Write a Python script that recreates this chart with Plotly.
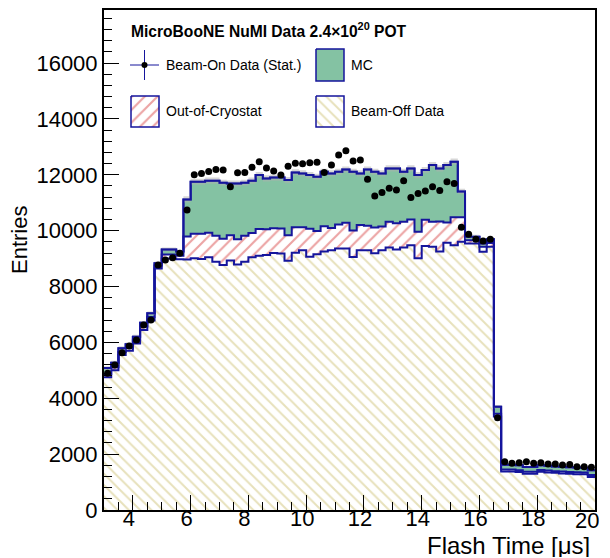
import numpy as np
import plotly.graph_objects as go

# ---------------- data ----------------
bin_lo, bin_hi, bin_w = 3.0, 20.0, 0.25

beam_off = [4750, 5000, 5550, 5700, 5960, 6440, 6780, 8650, 9000, 9000, 8980,
            8970, 9010, 8990, 9050, 8890, 8770, 8930, 8790, 8890, 9050, 9100, 9130, 9200,
            9180, 8920, 9210, 9300, 9070, 9160, 9250, 9300, 9360, 9360, 9060, 9300, 9300,
            9190, 9300, 9400, 9330, 9400, 9480, 9010, 9450, 9420, 9250, 9570, 9480,
            9600, 9540, 9540, 9245, 9420, 3350,
            1380, 1380, 1360, 1300, 1300, 1370, 1340, 1330, 1310, 1300, 1280, 1280, 1180]

out_of_cryo = [120, 110, 110, 110, 120, 130, 130, 100, 150, 150, 120,
               820, 880, 900, 880, 930, 940, 910, 900, 930, 870, 960, 920, 890,
               900, 920, 910, 820, 1000, 830, 910, 800, 860, 920, 950, 900, 880,
               920, 850, 920, 940, 920, 920, 950, 940, 900, 1080, 720, 1000,
               880, 120, 120, 175, 140, 100,
               70, 70, 60, 70, 70, 60, 70, 60, 70, 60, 70, 60, 70]

mc = [210, 160, 130, 120, 120, 130, 130, 80, 180, 180, 150,
      1330, 1860, 1860, 1860, 1970, 2005, 1850, 2000, 1895, 1870, 1930, 1820, 1810,
      1820, 1970, 1965, 1930, 1920, 1940, 1950, 1950, 1890, 1910, 2100, 1850, 2010,
      2000, 1900, 1910, 1960, 1790, 1830, 2030, 1780, 2030, 1900, 2060, 1990,
      920, 120, 120, 120, 130, 250,
      170, 170, 180, 170, 170, 170, 170, 170, 170, 170, 170, 170, 170]

mc_unc = [70, 70, 70, 70, 70, 70, 70, 70, 70, 70, 70,
          110, 110, 110, 110, 110, 110, 110, 110, 110, 110, 110, 110, 110,
          110, 110, 110, 110, 110, 110, 110, 110, 110, 110, 110, 110, 110,
          110, 110, 110, 110, 110, 110, 110, 110, 110, 110, 110, 110,
          100, 70, 70, 70, 70, 60,
          40, 40, 40, 40, 40, 40, 40, 40, 40, 40, 40, 40, 40]

beam_on = [4900, 5190, 5630, 5870, 6085, 6620, 6800, 8770, 8950, 9030, 9190,
           10740, 12000, 12050, 12120, 12190, 12170, 11570, 12070, 12080, 12270, 12470, 12240, 12140,
           11990, 12310, 12410, 12400, 12430, 12450, 12080, 12350, 12710, 12860, 12490, 12530, 11840,
           11240, 11370, 11520, 11460, 11790, 11190, 11330, 11420, 11570, 11440, 11750, 11690,
           10120, 9870, 9690, 9630, 9690, 3300,
           1730, 1670, 1690, 1730, 1670, 1690, 1650, 1650, 1610, 1630, 1550, 1550, 1530]

x_ticks = [4, 6, 8, 10, 12, 14, 16, 18, 20]
y_ticks = [0, 2000, 4000, 6000, 8000, 10000, 12000, 14000, 16000]

# ---------------- derived ----------------
edges = np.round(np.arange(bin_lo, bin_hi + 1e-9, bin_w), 4)
centers = 0.5 * (edges[:-1] + edges[1:])
s1 = np.array(beam_off, float)
s2 = s1 + np.array(out_of_cryo, float)
s3 = s2 + np.array(mc, float)
unc = np.array(mc_unc, float)


def steps(v):
    v = np.asarray(v, float)
    return np.append(v, v[-1])


NAVY = "#15159c"
GREEN = "#84c2a3"
RED = "#d94a4a"
KHAKI = "#cfc378"
FONT = "Liberation Sans, Arial, Helvetica, sans-serif"

# the page body has an 8px margin: the figure starts at (8, 8) in the window
OFF = 8
PLOT_L, PLOT_R, PLOT_T, PLOT_B = 104, 595, 10, 510
pw, ph = PLOT_R - PLOT_L, PLOT_B - PLOT_T

fig = go.Figure()

YEL_PAT = dict(shape="\\", fgcolor=KHAKI, bgcolor="white", size=8, solidity=0.25)
RED_PAT = dict(shape="/", fgcolor=RED, bgcolor="white", size=9, solidity=0.24)

# Beam-off (bottom)
fig.add_trace(go.Scatter(
    x=edges, y=steps(s1), mode="lines", line=dict(shape="hv", color=NAVY, width=2),
    fill="tozeroy", fillcolor="white", fillpattern=YEL_PAT,
    showlegend=False, hoverinfo="skip"))
# Out-of-cryostat
fig.add_trace(go.Scatter(
    x=edges, y=steps(s2), mode="lines", line=dict(shape="hv", color=NAVY, width=2),
    fill="tonexty", fillcolor="white", fillpattern=RED_PAT,
    showlegend=False, hoverinfo="skip"))
# MC
fig.add_trace(go.Scatter(
    x=edges, y=steps(s3), mode="lines", line=dict(shape="hv", color=NAVY, width=2),
    fill="tonexty", fillcolor=GREEN, showlegend=False, hoverinfo="skip"))
# uncertainty band
fig.add_trace(go.Scatter(
    x=edges, y=steps(s3 - unc), mode="lines", line=dict(shape="hv", width=0, color="rgba(0,0,0,0)"),
    showlegend=False, hoverinfo="skip"))
fig.add_trace(go.Scatter(
    x=edges, y=steps(s3 + unc), mode="lines", line=dict(shape="hv", width=0, color="rgba(0,0,0,0)"),
    fill="tonexty", fillcolor="rgba(175,175,175,0.5)", showlegend=False, hoverinfo="skip"))
# total line on top
fig.add_trace(go.Scatter(
    x=edges, y=steps(s3), mode="lines", line=dict(shape="hv", color=NAVY, width=2),
    showlegend=False, hoverinfo="skip"))
# data
fig.add_trace(go.Scatter(
    x=centers, y=beam_on, mode="markers", marker=dict(color="black", size=7),
    showlegend=False, hoverinfo="skip"))

# ---------------- legend (drawn on a pixel overlay axis) ----------------
def box(x0, x1, y0, y1, **kw):
    fig.add_trace(go.Scatter(
        x=[x0, x1, x1, x0, x0], y=[y0, y0, y1, y1, y0], xaxis="x2", yaxis="y2",
        mode="lines", line=dict(color=NAVY, width=1.5), fill="toself",
        showlegend=False, hoverinfo="skip", **kw))

fig.add_trace(go.Scatter(x=[130, 159], y=[65, 65], xaxis="x2", yaxis="y2", mode="lines",
                         line=dict(color=NAVY, width=1), showlegend=False, hoverinfo="skip"))
fig.add_trace(go.Scatter(x=[144.5, 144.5], y=[50, 80], xaxis="x2", yaxis="y2", mode="lines",
                         line=dict(color=NAVY, width=1), showlegend=False, hoverinfo="skip"))
fig.add_trace(go.Scatter(x=[144.5], y=[65], xaxis="x2", yaxis="y2", mode="markers",
                         marker=dict(color="black", size=6), showlegend=False, hoverinfo="skip"))
box(316, 344, 49, 81, fillcolor=GREEN)
box(131, 159, 96, 127, fillcolor="white", fillpattern=RED_PAT)
box(316, 344, 96, 127, fillcolor="white", fillpattern=YEL_PAT)

ann = []
def label(x, y, text, size=14, **kw):
    ann.append(dict(x=x, y=y, xref="x2", yref="y2", text=text, showarrow=False,
                    xanchor="left", yanchor="middle", font=dict(family=FONT, size=size, color="black"), **kw))

label(129, 30, "<b>MicroBooNE NuMI Data 2.4×10<sup>20</sup> POT</b>", size=15.6)
label(164, 65, "Beam-On Data (Stat.)")
label(349, 65, "MC")
label(164, 111, "Out-of-Cryostat")
label(349, 111, "Beam-Off Data")

# last x tick label pulled inside the window (as in the reference)
ann.append(dict(x=(587 - PLOT_L) / pw, y=(PLOT_B - 520) / ph, xref="paper", yref="paper",
                text=str(x_ticks[-1]), showarrow=False, xanchor="center", yanchor="middle",
                height=18, font=dict(family=FONT, size=22, color="black")))
ann.append(dict(x=(20 - PLOT_L) / pw, y=(PLOT_B - 240) / ph, xref="paper", yref="paper",
                text="Entries", textangle=-90,
                showarrow=False, xanchor="center", yanchor="middle",
                font=dict(family=FONT, size=22, color="black")))
ann.append(dict(x=(592 - PLOT_L) / pw, y=(PLOT_B - 545) / ph, xref="paper", yref="paper",
                text="Flash Time [μs]",
                showarrow=False, xanchor="right", yanchor="middle", height=24,
                font=dict(family=FONT, size=24, color="black")))

W, H = 610 - OFF, 558 - OFF
fig.update_layout(
    width=W, height=H,
    margin=dict(l=PLOT_L - OFF, r=610 - PLOT_R, t=PLOT_T - OFF, b=558 - PLOT_B, pad=0),
    paper_bgcolor="white", plot_bgcolor="white",
    font=dict(family=FONT, size=22, color="black"),
    showlegend=False,
    annotations=ann,
    xaxis=dict(range=[bin_lo, bin_hi], tickmode="array", tickvals=x_ticks,
               ticktext=[str(v) for v in x_ticks[:-1]] + [""],
               showline=True, linecolor="black", linewidth=2, mirror=True,
               ticks="inside", ticklen=15, tickwidth=1, tickcolor="black",
               minor=dict(ticks="inside", ticklen=8, tickwidth=1, tickcolor="black", dtick=0.5, tick0=3),
               showgrid=False, zeroline=False, tickfont=dict(size=22), ticklabelstandoff=-12,
               ticklabelshift=-4, automargin=False),
    yaxis=dict(range=[0, 17900], tickmode="array", tickvals=y_ticks,
               ticktext=[str(v) for v in y_ticks],
               showline=True, linecolor="black", linewidth=2, mirror=True,
               ticks="inside", ticklen=15, tickwidth=1, tickcolor="black",
               minor=dict(ticks="inside", ticklen=8, tickwidth=1, tickcolor="black", dtick=400, tick0=0),
               showgrid=False, zeroline=False, tickfont=dict(size=22), ticklabelstandoff=0,
               automargin=False),
    xaxis2=dict(overlaying="x", anchor="y2", range=[PLOT_L, PLOT_R], visible=False, fixedrange=True),
    yaxis2=dict(overlaying="y", anchor="x2", range=[PLOT_B, PLOT_T], visible=False, fixedrange=True),
)

fig.write_html("out.html")
